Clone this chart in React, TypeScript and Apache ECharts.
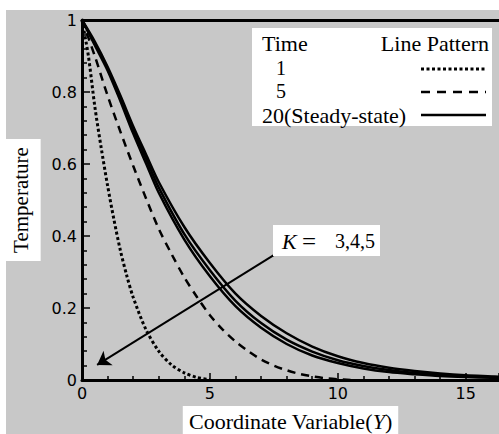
import React, { useEffect, useRef } from 'react';
import * as echarts from 'echarts';

// Time = 1 (dotted)
const t1X = [0, 0.25, 0.5, 0.75, 1, 1.25, 1.5, 1.75, 2, 2.5, 3, 3.5, 4, 4.5, 5];
const t1T = [1, 0.9, 0.76, 0.645, 0.54, 0.445, 0.36, 0.29, 0.23, 0.14, 0.08, 0.042, 0.02, 0.007, 0.001];

// Time = 5 (dashed)
const t5X = [0, 0.5, 1, 1.5, 2, 2.5, 3, 3.5, 4, 4.5, 5, 5.5, 6, 6.5, 7, 7.5, 8, 8.5, 9, 9.5, 10, 10.5];
const t5T = [1, 0.9, 0.79, 0.69, 0.595, 0.505, 0.42, 0.35, 0.285, 0.23, 0.18, 0.14, 0.107, 0.08, 0.057, 0.04, 0.027, 0.017, 0.01, 0.005, 0.002, 0];

// Time = 20 (steady state, solid), K = 3, 4, 5
const t20X = [0, 0.5, 1, 1.5, 2, 2.5, 3, 4, 5, 6, 7, 8, 9, 10, 11, 12, 13, 14, 15, 16, 16.3];
const t20K3 = [1, 0.94, 0.87, 0.79, 0.705, 0.627, 0.55, 0.425, 0.325, 0.24, 0.178, 0.13, 0.093, 0.066, 0.047, 0.034, 0.025, 0.018, 0.013, 0.01, 0.009];
const t20K4 = [1, 0.935, 0.865, 0.782, 0.695, 0.615, 0.535, 0.405, 0.305, 0.22, 0.158, 0.112, 0.079, 0.055, 0.039, 0.028, 0.02, 0.014, 0.01, 0.008, 0.007];
const t20K5 = [1, 0.93, 0.86, 0.775, 0.685, 0.602, 0.52, 0.39, 0.288, 0.205, 0.145, 0.1, 0.068, 0.047, 0.032, 0.022, 0.016, 0.011, 0.008, 0.006, 0.005];

// Arrow annotation endpoints (data coords)
const arrowFrom = [7.7, 0.356];
const arrowTo = [0.59, 0.042];

const xTicks = [0, 5, 10, 15];
const yTicks = [0, 0.2, 0.4, 0.6, 0.8, 1];

const legendRows = ['1', '5', '20(Steady-state)'];

const pairs = (xs: number[], ys: number[]) => xs.map((x, i) => [x, ys[i]]);

const SERIF = 'Liberation Serif, Times New Roman, serif';
const SANS = 'DejaVu Sans, Verdana, sans-serif';

export default function App() {
  const ref = useRef<HTMLDivElement>(null);
  useEffect(() => {
    if (!ref.current) return;
    const chart = echarts.init(ref.current, null, { renderer: 'svg' });
    const black = '#000';
    const solidStyle = { color: black, width: 2.5, type: 'solid' as const };
    const txt = (text: string, x: number, y: number, extra: any = {}) => ({
      type: 'text',
      x,
      y,
      z: 11,
      style: { text, fontFamily: SERIF, fontSize: 22, fill: black, verticalAlign: 'middle', ...extra },
    });
    const option: any = {
      animation: false,
      backgroundColor: 'transparent',
      grid: { left: 82, top: 20, right: 0, bottom: 54, containLabel: false, outerBoundsMode: 'none' },
      xAxis: [
        {
          type: 'value',
          min: xTicks[0],
          max: 16.3,
          interval: 5,
          position: 'bottom',
          name: '{n|Coordinate Variable(}{i|Y}{n|)}',
          nameLocation: 'middle',
          nameGap: 21,
          nameTextStyle: {
            backgroundColor: '#fff',
            padding: [5, 6, 5, 6],
            rich: {
              n: { fontFamily: SERIF, fontSize: 22, color: black },
              i: { fontFamily: SERIF, fontSize: 22, fontStyle: 'italic', color: black },
            },
          },
          axisLine: { show: true, onZero: false, lineStyle: { color: black, width: 3 } },
          axisTick: { show: true, inside: true, length: 7, lineStyle: { color: black, width: 1.5 } },
          minorTick: { show: true, splitNumber: 5, length: 4, lineStyle: { color: black, width: 1.5 } },
          axisLabel: { color: black, fontFamily: SANS, fontSize: 16, margin: 5, showMaxLabel: false },
          splitLine: { show: false },
        },
        {
          type: 'value',
          min: 0,
          max: 16.3,
          position: 'top',
          axisLine: { show: true, onZero: false, lineStyle: { color: black, width: 3 } },
          axisTick: { show: false },
          axisLabel: { show: false },
          splitLine: { show: false },
        },
      ],
      yAxis: {
        type: 'value',
        min: yTicks[0],
        max: yTicks[yTicks.length - 1],
        interval: 0.2,
        name: 'Temperature',
        nameLocation: 'middle',
        nameGap: 29,
        nameTextStyle: {
          fontFamily: SERIF,
          fontSize: 21,
          color: black,
          backgroundColor: '#fff',
          padding: [9, 8, 9, 8],
        },
        axisLine: { show: true, onZero: false, lineStyle: { color: black, width: 3 } },
        axisTick: { show: true, inside: true, length: 8, lineStyle: { color: black, width: 1.5 } },
        minorTick: { show: true, splitNumber: 5, length: 5, lineStyle: { color: black, width: 1.5 } },
        axisLabel: { color: black, fontFamily: SANS, fontSize: 16, margin: 5 },
        splitLine: { show: false },
      },
      series: [
        {
          name: 'Time 1',
          type: 'line',
          data: pairs(t1X, t1T),
          smooth: 0.3,
          showSymbol: false,
          lineStyle: { color: black, width: 3, type: [3, 2.5] },
          z: 3,
        },
        {
          name: 'Time 5',
          type: 'line',
          data: pairs(t5X, t5T),
          smooth: 0.3,
          showSymbol: false,
          lineStyle: { color: black, width: 2.5, type: [8, 6] },
          z: 3,
        },
        {
          name: 'Time 20, K=3',
          type: 'line',
          data: pairs(t20X, t20K3),
          smooth: 0.3,
          showSymbol: false,
          lineStyle: solidStyle,
          z: 3,
        },
        {
          name: 'Time 20, K=4',
          type: 'line',
          data: pairs(t20X, t20K4),
          smooth: 0.3,
          showSymbol: false,
          lineStyle: solidStyle,
          z: 3,
        },
        {
          name: 'Time 20, K=5',
          type: 'line',
          data: pairs(t20X, t20K5),
          smooth: 0.3,
          showSymbol: false,
          lineStyle: solidStyle,
          z: 3,
          markLine: {
            silent: true,
            animation: false,
            symbol: ['none', 'arrow'],
            symbolSize: 13,
            label: { show: false },
            lineStyle: { color: black, width: 2, type: 'solid' },
            itemStyle: { color: black },
            data: [[{ coord: arrowFrom }, { coord: arrowTo }]],
          },
        },
      ],
      graphic: [
        // K annotation box
        { type: 'rect', shape: { x: 273, y: 225, width: 107, height: 31 }, style: { fill: '#fff' }, z: 10 },
        txt('K', 282, 241, { fontStyle: 'italic' }),
        txt('=', 302, 241, { fontSize: 25 }),
        txt('3,4,5', 335, 241, { fontSize: 20 }),
        // Legend box
        { type: 'rect', shape: { x: 252, y: 28, width: 240, height: 98 }, style: { fill: '#fff' }, z: 10 },
        txt('Time', 262, 43),
        txt('Line Pattern', 489, 43, { align: 'right' }),
        txt(legendRows[0], 276, 67.5, { fontSize: 20 }),
        txt(legendRows[1], 276, 90.5, { fontSize: 20 }),
        txt(legendRows[2], 262, 115.5),
        { type: 'line', z: 11, shape: { x1: 421, y1: 69, x2: 486, y2: 69 }, style: { stroke: black, lineWidth: 3, lineDash: [3, 2.5] } },
        { type: 'line', z: 11, shape: { x1: 421, y1: 92, x2: 486, y2: 92 }, style: { stroke: black, lineWidth: 2.5, lineDash: [9, 7] } },
        { type: 'line', z: 11, shape: { x1: 421, y1: 115, x2: 486, y2: 115 }, style: { stroke: black, lineWidth: 2.5 } },
      ],
    };
    chart.setOption(option);
    return () => chart.dispose();
  }, []);

  return (
    <div style={{ position: 'fixed', left: 0, top: 0, width: 499, height: 434, background: '#fff', overflow: 'hidden' }}>
      <div style={{ position: 'absolute', left: 6, top: 10, right: 0, bottom: 0, background: '#c8c8c8' }} />
      <div ref={ref} style={{ position: 'absolute', left: 0, top: 0, width: 499, height: 434 }} />
    </div>
  );
}
